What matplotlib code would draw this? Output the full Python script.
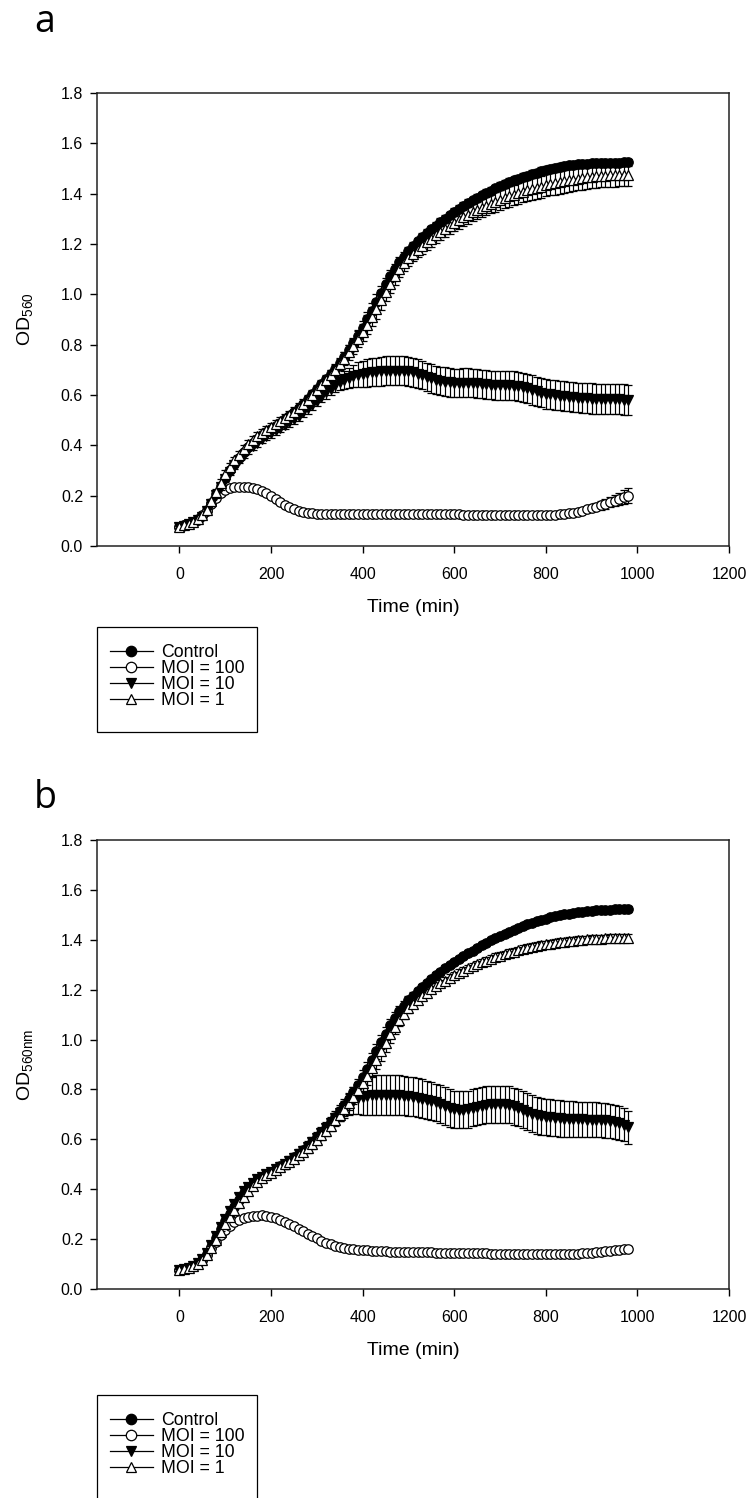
import matplotlib
matplotlib.use("Agg")
import matplotlib.pyplot as plt
from matplotlib.lines import Line2D
from matplotlib.patches import Rectangle

plt.rcParams['font.family'] = ['Liberation Sans', 'DejaVu Sans']
plt.rcParams['mathtext.fontset'] = 'custom'
plt.rcParams['mathtext.rm'] = 'Liberation Sans'
plt.rcParams['mathtext.it'] = 'Liberation Sans:italic'

# ---------------- data ----------------
time_min = list(range(0, 990, 10))
labels = ["Control", "MOI = 100", "MOI = 10", "MOI = 1"]

a_ctrl = [0.077,0.082,0.088,0.095,0.105,0.118,0.140,0.170,0.205,0.240,
          0.272,0.300,0.325,0.350,0.372,0.392,0.410,0.425,0.440,0.452,
          0.465,0.478,0.490,0.503,0.517,0.532,0.548,0.565,0.583,0.602,
          0.622,0.642,0.662,0.683,0.705,0.728,0.752,0.778,0.805,0.835,
          0.867,0.900,0.935,0.970,1.005,1.040,1.072,1.100,1.127,1.150,
          1.172,1.192,1.210,1.227,1.243,1.258,1.273,1.287,1.301,1.314,
          1.327,1.339,1.351,1.362,1.373,1.383,1.393,1.403,1.412,1.421,
          1.430,1.438,1.446,1.453,1.460,1.466,1.472,1.478,1.484,1.489,
          1.494,1.498,1.502,1.506,1.509,1.512,1.514,1.516,1.518,1.519,
          1.520,1.521,1.522,1.522,1.523,1.523,1.523,1.524,1.524]
a_m100 = [0.077,0.082,0.088,0.096,0.107,0.122,0.143,0.168,0.192,0.210,
          0.222,0.229,0.233,0.235,0.235,0.234,0.231,0.226,0.219,0.210,
          0.199,0.187,0.175,0.164,0.154,0.146,0.140,0.135,0.132,0.130,
          0.129,0.128,0.128,0.128,0.128,0.128,0.128,0.128,0.128,0.128,
          0.128,0.128,0.128,0.128,0.128,0.128,0.128,0.128,0.128,0.128,
          0.128,0.127,0.127,0.127,0.127,0.127,0.127,0.126,0.126,0.126,
          0.126,0.126,0.125,0.125,0.125,0.125,0.125,0.124,0.124,0.124,
          0.124,0.123,0.123,0.123,0.122,0.122,0.122,0.122,0.122,0.122,
          0.123,0.124,0.125,0.126,0.128,0.130,0.133,0.137,0.141,0.146,
          0.151,0.156,0.161,0.167,0.173,0.179,0.186,0.193,0.200]
a_m10 = [0.077,0.081,0.087,0.094,0.104,0.117,0.138,0.168,0.202,0.236,
         0.268,0.296,0.321,0.343,0.363,0.381,0.397,0.411,0.424,0.436,
         0.448,0.460,0.470,0.481,0.493,0.505,0.518,0.532,0.547,0.562,
         0.578,0.594,0.610,0.625,0.638,0.650,0.660,0.668,0.675,0.680,
         0.684,0.687,0.690,0.692,0.694,0.696,0.697,0.697,0.697,0.696,
         0.694,0.690,0.685,0.679,0.672,0.666,0.660,0.656,0.653,0.650,
         0.648,0.648,0.649,0.649,0.648,0.646,0.644,0.642,0.640,0.639,
         0.638,0.638,0.638,0.637,0.635,0.631,0.626,0.620,0.614,0.609,
         0.605,0.602,0.600,0.598,0.596,0.594,0.592,0.590,0.588,0.587,
         0.586,0.585,0.585,0.584,0.584,0.583,0.583,0.582,0.580]
a_m1 = [0.077,0.082,0.088,0.096,0.107,0.122,0.145,0.178,0.215,0.252,
        0.285,0.315,0.340,0.363,0.385,0.405,0.422,0.437,0.450,0.461,
        0.472,0.483,0.495,0.507,0.520,0.534,0.549,0.565,0.582,0.600,
        0.619,0.638,0.658,0.679,0.700,0.722,0.745,0.769,0.794,0.821,
        0.850,0.880,0.911,0.943,0.976,1.010,1.043,1.073,1.100,1.123,
        1.143,1.161,1.177,1.192,1.206,1.220,1.234,1.247,1.260,1.272,
        1.284,1.295,1.306,1.316,1.326,1.335,1.344,1.352,1.360,1.368,
        1.375,1.382,1.389,1.395,1.401,1.407,1.413,1.418,1.423,1.428,
        1.433,1.437,1.441,1.445,1.449,1.453,1.456,1.459,1.462,1.465,
        1.467,1.469,1.471,1.472,1.473,1.474,1.475,1.476,1.476]

a_ctrl_err = [0.004,0.004,0.004,0.005,0.005,0.005,0.006,0.008,0.010,0.010,
              0.010,0.010,0.010,0.010,0.010,0.010,0.010,0.010,0.010,0.010,
              0.010,0.010,0.010,0.010,0.010,0.012,0.012,0.012,0.012,0.012,
              0.014,0.014,0.014,0.015,0.015,0.016,0.018,0.020,0.022,0.025,
              0.028,0.030,0.030,0.030,0.028,0.026,0.024,0.022,0.020,0.018,
              0.016,0.015,0.015,0.015,0.015,0.015,0.015,0.015,0.015,0.015,
              0.015,0.015,0.015,0.015,0.015,0.015,0.015,0.015,0.015,0.015,
              0.015,0.015,0.015,0.015,0.015,0.015,0.015,0.015,0.015,0.015,
              0.015,0.015,0.015,0.015,0.015,0.015,0.015,0.015,0.015,0.015,
              0.015,0.015,0.015,0.015,0.015,0.015,0.015,0.015,0.015]
a_m100_err = [0.004,0.004,0.004,0.004,0.004,0.004,0.004,0.004,0.004,0.004,
              0.004,0.004,0.004,0.004,0.004,0.004,0.004,0.004,0.004,0.004,
              0.004,0.004,0.004,0.004,0.004,0.004,0.004,0.004,0.004,0.004,
              0.004,0.004,0.004,0.004,0.004,0.004,0.004,0.004,0.004,0.004,
              0.004,0.004,0.004,0.004,0.004,0.004,0.004,0.004,0.004,0.004,
              0.004,0.004,0.004,0.004,0.004,0.004,0.004,0.004,0.004,0.004,
              0.004,0.004,0.004,0.004,0.004,0.004,0.004,0.004,0.004,0.004,
              0.004,0.004,0.004,0.004,0.004,0.004,0.004,0.004,0.004,0.004,
              0.004,0.004,0.004,0.005,0.005,0.006,0.007,0.008,0.009,0.010,
              0.012,0.014,0.016,0.018,0.020,0.022,0.025,0.028,0.030]
a_m10_err = [0.004,0.004,0.004,0.005,0.005,0.006,0.008,0.010,0.012,0.014,
             0.015,0.015,0.015,0.015,0.015,0.015,0.016,0.016,0.016,0.016,
             0.017,0.017,0.018,0.018,0.019,0.019,0.020,0.020,0.021,0.021,
             0.022,0.023,0.024,0.026,0.028,0.032,0.036,0.040,0.045,0.050,
             0.053,0.055,0.056,0.057,0.057,0.057,0.057,0.057,0.057,0.057,
             0.057,0.057,0.057,0.057,0.057,0.057,0.057,0.057,0.057,0.057,
             0.057,0.057,0.057,0.057,0.057,0.057,0.057,0.057,0.057,0.057,
             0.058,0.058,0.058,0.058,0.058,0.058,0.058,0.058,0.058,0.058,
             0.059,0.059,0.059,0.059,0.059,0.059,0.059,0.059,0.059,0.059,
             0.060,0.060,0.060,0.060,0.060,0.060,0.060,0.060,0.060]
a_m1_err = [0.004,0.004,0.004,0.005,0.005,0.006,0.008,0.010,0.012,0.014,
            0.015,0.015,0.015,0.015,0.015,0.015,0.015,0.015,0.015,0.015,
            0.016,0.016,0.016,0.017,0.017,0.018,0.018,0.018,0.019,0.019,
            0.020,0.020,0.021,0.022,0.023,0.024,0.026,0.028,0.030,0.032,
            0.034,0.036,0.038,0.040,0.040,0.038,0.036,0.034,0.032,0.030,
            0.030,0.030,0.030,0.031,0.031,0.032,0.032,0.033,0.033,0.034,
            0.034,0.035,0.035,0.036,0.036,0.037,0.037,0.038,0.038,0.039,
            0.039,0.040,0.040,0.041,0.041,0.042,0.042,0.043,0.043,0.044,
            0.044,0.044,0.045,0.045,0.045,0.045,0.046,0.046,0.046,0.046,
            0.046,0.046,0.046,0.046,0.046,0.046,0.046,0.046,0.046]

b_ctrl = [0.075,0.080,0.086,0.094,0.104,0.118,0.140,0.170,0.205,0.240,
          0.272,0.302,0.330,0.357,0.383,0.405,0.422,0.436,0.448,0.459,
          0.470,0.481,0.492,0.503,0.515,0.528,0.542,0.557,0.573,0.590,
          0.608,0.627,0.647,0.668,0.690,0.713,0.737,0.762,0.789,0.818,
          0.849,0.882,0.917,0.953,0.989,1.024,1.057,1.087,1.113,1.136,
          1.157,1.176,1.194,1.211,1.227,1.242,1.257,1.271,1.285,1.298,
          1.311,1.323,1.335,1.346,1.357,1.368,1.378,1.388,1.398,1.407,
          1.416,1.425,1.433,1.441,1.448,1.455,1.462,1.468,1.474,1.480,
          1.485,1.490,1.494,1.498,1.502,1.505,1.508,1.511,1.513,1.515,
          1.517,1.518,1.519,1.520,1.521,1.522,1.522,1.523,1.523]
b_m100 = [0.075,0.080,0.086,0.094,0.104,0.118,0.138,0.163,0.190,0.215,
          0.237,0.254,0.267,0.276,0.283,0.288,0.292,0.294,0.295,0.294,
          0.290,0.284,0.277,0.269,0.261,0.252,0.242,0.232,0.222,0.212,
          0.203,0.194,0.186,0.179,0.173,0.168,0.164,0.161,0.159,0.157,
          0.156,0.155,0.154,0.153,0.152,0.151,0.150,0.150,0.149,0.149,
          0.148,0.148,0.148,0.147,0.147,0.147,0.146,0.146,0.146,0.145,
          0.145,0.145,0.144,0.144,0.144,0.143,0.143,0.143,0.142,0.142,
          0.142,0.142,0.141,0.141,0.141,0.141,0.140,0.140,0.140,0.140,
          0.140,0.140,0.140,0.140,0.140,0.140,0.141,0.142,0.143,0.144,
          0.146,0.147,0.149,0.151,0.153,0.155,0.158,0.160,0.162]
b_m10 = [0.075,0.080,0.086,0.094,0.105,0.120,0.143,0.175,0.212,0.248,
         0.282,0.313,0.342,0.368,0.391,0.410,0.426,0.439,0.450,0.460,
         0.470,0.480,0.490,0.501,0.513,0.526,0.540,0.555,0.571,0.588,
         0.606,0.625,0.645,0.665,0.685,0.705,0.724,0.741,0.755,0.765,
         0.771,0.775,0.777,0.778,0.779,0.779,0.779,0.778,0.777,0.775,
         0.773,0.770,0.767,0.763,0.759,0.754,0.748,0.741,0.733,0.726,
         0.721,0.718,0.718,0.721,0.726,0.731,0.735,0.738,0.740,0.741,
         0.741,0.740,0.738,0.733,0.726,0.718,0.710,0.703,0.697,0.693,
         0.690,0.688,0.686,0.684,0.683,0.682,0.681,0.680,0.680,0.679,
         0.679,0.678,0.677,0.676,0.674,0.671,0.666,0.658,0.648]
b_m1 = [0.075,0.079,0.085,0.092,0.102,0.115,0.135,0.163,0.196,0.229,
        0.260,0.290,0.318,0.345,0.370,0.393,0.413,0.430,0.444,0.456,
        0.467,0.478,0.489,0.500,0.511,0.523,0.536,0.550,0.565,0.581,
        0.598,0.616,0.635,0.655,0.676,0.698,0.721,0.745,0.770,0.797,
        0.825,0.855,0.887,0.920,0.954,0.988,1.021,1.052,1.080,1.104,
        1.125,1.143,1.159,1.174,1.188,1.201,1.213,1.225,1.236,1.247,
        1.257,1.267,1.276,1.285,1.293,1.301,1.309,1.316,1.323,1.330,
        1.336,1.342,1.348,1.353,1.358,1.363,1.367,1.371,1.375,1.379,
        1.382,1.385,1.388,1.391,1.393,1.395,1.397,1.399,1.401,1.402,
        1.403,1.404,1.405,1.406,1.407,1.408,1.408,1.409,1.409]

b_ctrl_err = [0.004,0.004,0.004,0.005,0.005,0.005,0.006,0.008,0.010,0.010,
              0.010,0.010,0.010,0.010,0.010,0.010,0.010,0.010,0.010,0.010,
              0.010,0.010,0.010,0.010,0.010,0.012,0.012,0.012,0.012,0.012,
              0.014,0.014,0.014,0.015,0.015,0.016,0.018,0.020,0.022,0.025,
              0.028,0.030,0.030,0.030,0.028,0.026,0.024,0.022,0.020,0.018,
              0.016,0.014,0.013,0.012,0.012,0.012,0.012,0.012,0.012,0.012,
              0.012,0.012,0.012,0.012,0.012,0.012,0.012,0.012,0.012,0.012,
              0.012,0.012,0.012,0.012,0.012,0.012,0.012,0.012,0.012,0.012,
              0.012,0.012,0.012,0.012,0.012,0.012,0.012,0.012,0.012,0.012,
              0.012,0.012,0.012,0.012,0.012,0.012,0.012,0.012,0.012]
b_m100_err = [0.004,0.004,0.004,0.004,0.004,0.004,0.004,0.004,0.004,0.004,
              0.004,0.004,0.004,0.004,0.004,0.004,0.004,0.004,0.004,0.004,
              0.004,0.004,0.004,0.004,0.004,0.004,0.004,0.004,0.004,0.004,
              0.004,0.004,0.004,0.004,0.004,0.004,0.004,0.004,0.004,0.004,
              0.004,0.004,0.004,0.004,0.004,0.004,0.004,0.004,0.004,0.004,
              0.004,0.004,0.004,0.004,0.004,0.004,0.004,0.004,0.004,0.004,
              0.004,0.004,0.004,0.004,0.004,0.004,0.004,0.004,0.004,0.004,
              0.004,0.004,0.004,0.004,0.004,0.004,0.004,0.004,0.004,0.004,
              0.004,0.004,0.004,0.004,0.005,0.005,0.005,0.006,0.006,0.006,
              0.007,0.007,0.008,0.008,0.009,0.010,0.010,0.011,0.012]
b_m10_err = [0.004,0.004,0.004,0.005,0.005,0.006,0.008,0.010,0.012,0.014,
             0.015,0.015,0.015,0.015,0.015,0.015,0.016,0.016,0.016,0.016,
             0.017,0.017,0.018,0.018,0.019,0.019,0.020,0.020,0.021,0.021,
             0.022,0.023,0.024,0.026,0.028,0.032,0.038,0.045,0.055,0.065,
             0.072,0.076,0.078,0.079,0.080,0.080,0.080,0.080,0.079,0.079,
             0.078,0.078,0.077,0.077,0.076,0.076,0.075,0.075,0.075,0.075,
             0.074,0.074,0.074,0.074,0.074,0.074,0.074,0.074,0.074,0.074,
             0.074,0.074,0.074,0.074,0.074,0.074,0.074,0.074,0.074,0.074,
             0.073,0.073,0.073,0.073,0.072,0.072,0.072,0.071,0.071,0.070,
             0.070,0.070,0.069,0.069,0.068,0.068,0.067,0.066,0.065]
b_m1_err = [0.004,0.004,0.004,0.005,0.005,0.006,0.008,0.010,0.012,0.014,
            0.015,0.015,0.015,0.015,0.015,0.015,0.015,0.015,0.015,0.015,
            0.016,0.016,0.016,0.017,0.017,0.018,0.018,0.018,0.019,0.019,
            0.020,0.020,0.021,0.022,0.023,0.024,0.026,0.028,0.030,0.032,
            0.034,0.036,0.038,0.040,0.040,0.038,0.034,0.030,0.026,0.022,
            0.020,0.018,0.016,0.015,0.015,0.015,0.015,0.015,0.015,0.015,
            0.015,0.015,0.015,0.015,0.015,0.015,0.015,0.015,0.015,0.015,
            0.015,0.015,0.015,0.015,0.015,0.015,0.015,0.015,0.015,0.015,
            0.015,0.015,0.015,0.015,0.015,0.015,0.015,0.015,0.015,0.015,
            0.015,0.015,0.015,0.015,0.015,0.015,0.015,0.015,0.015]

y_ticks = [0.0, 0.2, 0.4, 0.6, 0.8, 1.0, 1.2, 1.4, 1.6, 1.8]
x_ticks = [0, 200, 400, 600, 800, 1000, 1200]

# ---------------- style ----------------
W, H = 749, 1498
styles = [dict(marker='o', mfc='black'),
          dict(marker='o', mfc='white'),
          dict(marker='v', mfc='black'),
          dict(marker='^', mfc='white')]

fig = plt.figure(figsize=(W / 100, H / 100), dpi=100)


def fx(px):
    return px / W


def fy(py):
    return 1 - py / H


def panel(top_px, bot_px, series, errs, ylab, letter, letter_y, leg_top):
    ax = fig.add_axes([fx(97), fy(bot_px), fx(729) - fx(97), fy(top_px) - fy(bot_px)])
    for i, (ys, es) in enumerate(zip(series, errs)):
        st = styles[i]
        ax.errorbar(time_min, ys, yerr=es, color='black', lw=1.0,
                    marker=st['marker'], mfc=st['mfc'], mec='black', mew=0.9,
                    ms=6.8, elinewidth=0.85, capsize=3.2, capthick=0.85,
                    zorder=3 + i)
    ax.set_xlim(-180, 1200)
    ax.set_ylim(0, 1.8)
    ax.set_xticks(x_ticks)
    ax.set_yticks(y_ticks)
    ax.set_yticklabels([f"{v:.1f}" for v in y_ticks])
    ax.tick_params(direction='out', length=5, width=1.0, labelsize=11.5,
                   top=False, right=False, colors='black')
    ax.tick_params(axis='x', pad=10)
    ax.tick_params(axis='y', pad=5)
    for s in ax.spines.values():
        s.set_linewidth(1.1)
        s.set_color('#222222')
    ax.set_xlabel("Time (min)", fontsize=14)
    ax.xaxis.set_label_coords(0.5, -0.117)
    ax.set_ylabel(ylab, fontsize=14)
    ax.yaxis.set_label_coords(-0.098, 0.5)
    fig.text(fx(45), fy(letter_y), letter, fontsize=27, family=['Open Sans', 'DejaVu Sans'],
             ha='center', va='center')
    handles = [Line2D([0], [0], color='black', lw=0.9, marker=st['marker'],
                      mfc=st['mfc'], mec='black', mew=0.9, ms=7.5) for st in styles]
    fig.legend(handles, labels, loc='upper left',
               bbox_to_anchor=(fx(110), fy(leg_top + 17)), frameon=False,
               fontsize=12.8, handlelength=2.4, handletextpad=0.45,
               labelspacing=-0.06, borderpad=0, borderaxespad=0, numpoints=1)
    fig.add_artist(Rectangle((fx(97), fy(leg_top + 105)), fx(257) - fx(97),
                             fy(leg_top) - fy(leg_top + 105), transform=fig.transFigure,
                             fill=False, ec='black', lw=0.9))
    return ax


panel(93, 546, [a_ctrl, a_m100, a_m10, a_m1],
      [a_ctrl_err, a_m100_err, a_m10_err, a_m1_err],
      r'OD$_{\mathregular{560}}$', 'a', 22, 627)
panel(840, 1289, [b_ctrl, b_m100, b_m10, b_m1],
      [b_ctrl_err, b_m100_err, b_m10_err, b_m1_err],
      r'OD$_{\mathregular{560nm}}$', 'b', 798, 1395)

fig.savefig("out.png", dpi=100)
